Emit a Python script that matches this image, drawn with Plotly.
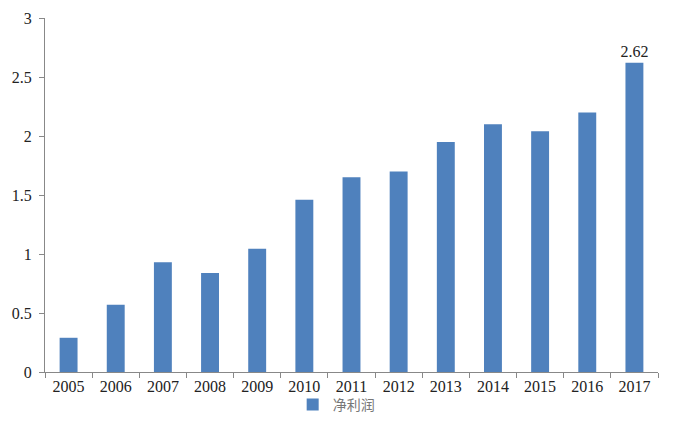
import plotly.graph_objects as go

years = ["2005", "2006", "2007", "2008", "2009", "2010", "2011",
         "2012", "2013", "2014", "2015", "2016", "2017"]
net_profit = [0.29, 0.57, 0.93, 0.84, 1.045, 1.46, 1.65,
              1.70, 1.95, 2.10, 2.04, 2.20, 2.62]
series_name = "净利润"
labels = ["" if i < len(net_profit) - 1 else f"{v:.2f}" for i, v in enumerate(net_profit)]

fig = go.Figure()
fig.add_trace(go.Bar(
    x=years, y=net_profit, name=series_name,
    marker=dict(color="#4F81BD", line=dict(width=0)),
    text=labels, textposition="outside", cliponaxis=False,
    constraintext="none",
    textfont=dict(family="Liberation Serif", size=16, color="#222222"),
    showlegend=True,
))

fig.update_layout(
    width=700, height=436,
    margin=dict(l=37, r=50, t=10, b=72, autoexpand=False),
    paper_bgcolor="white", plot_bgcolor="white",
    bargap=0.62,
    font=dict(family="Liberation Serif", size=16, color="#222222"),
    legend=dict(x=0.475, xanchor="center", y=-0.093, yanchor="middle",
                orientation="h",
                font=dict(family="Noto Sans CJK SC", size=14, color="#777777"),
                itemwidth=30, bgcolor="rgba(0,0,0,0)"),
    xaxis=dict(
        showline=True, linecolor="#888888", linewidth=1,
        ticks="outside", tickson="boundaries", ticklen=5, tickcolor="#888888",
        showgrid=False, tickfont=dict(size=16),
    ),
    yaxis=dict(
        range=[0, 3], tickvals=[0, 0.5, 1, 1.5, 2, 2.5, 3],
        ticktext=["0", "0.5", "1", "1.5", "2", "2.5", "3"],
        showline=True, linecolor="#888888", linewidth=1,
        ticks="outside", ticklen=5, tickcolor="#888888",
        showgrid=False, zeroline=False, tickfont=dict(size=16),
        ticklabelstandoff=4,
    ),
)

fig.write_html("out.html")
